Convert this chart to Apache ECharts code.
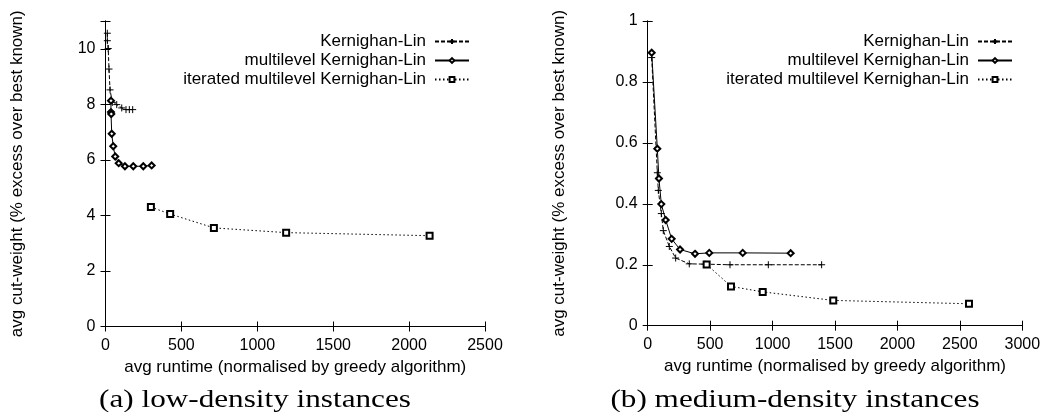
<!DOCTYPE html>
<html>
<head>
<meta charset="utf-8">
<script src="https://cdn.jsdelivr.net/npm/echarts@6.0.0/dist/echarts.min.js"></script>
<style>
  html, body { margin: 0; padding: 0; background: #fff; }
  #chart { width: 1050px; height: 412px; }
</style>
</head>
<body>
<div id="chart"></div>
<script>
// (a) low-density instances
const lowKlX = [12, 12, 18, 23, 30, 45, 74, 107, 135, 157, 179];
const lowKlY = [10.56, 10.29, 10.01, 9.27, 8.52, 8.07, 7.99, 7.87, 7.81, 7.81, 7.81];
const lowMlX = [36, 36, 38, 41, 51, 64, 87, 128, 183, 249, 304];
const lowMlY = [8.13, 7.72, 7.65, 6.94, 6.49, 6.12, 5.88, 5.77, 5.77, 5.77, 5.8];
const lowItX = [299, 426, 714, 1190, 2135];
const lowItY = [4.30, 4.05, 3.55, 3.38, 3.27];

// (b) medium-density instances
const medKlX = [32, 77, 85, 109, 125, 173, 224, 333, 459, 659, 966, 1393];
const medKlY = [0.88, 0.502, 0.444, 0.368, 0.312, 0.26, 0.222, 0.203, 0.202, 0.2, 0.2, 0.2];
const medMlX = [32, 77, 90, 109, 144, 192, 259, 379, 493, 761, 1145];
const medMlY = [0.896, 0.581, 0.483, 0.399, 0.347, 0.285, 0.25, 0.236, 0.239, 0.239, 0.238];
const medItX = [472, 667, 921, 1486, 2573];
const medItY = [0.201, 0.129, 0.111, 0.083, 0.072];

const seriesNames = ["Kernighan-Lin", "multilevel Kernighan-Lin", "iterated multilevel Kernighan-Lin"];
const xName = "avg runtime (normalised by greedy algorithm)";
const yName = "avg cut-weight (% excess over best known)";
const captions = ["(a) low-density instances", "(b) medium-density instances"];

const zip = (xs, ys) => xs.map((x, i) => [x, ys[i]]);

const sans = "Liberation Sans";
const plus = "path://M0,5L10,5M5,0L5,10";

const chart = echarts.init(document.getElementById("chart"));

const xAxes = [];
const yAxes = [];
[[2500, 11, 2], [3000, 1, 0.2]].forEach(([xmax, ymax, yint], g) => {
  const common = {
    gridIndex: g,
    type: "value",
    min: 0,
    splitLine: { show: false },
    axisLine: { show: true, lineStyle: { color: "#000", width: 1 } },
    axisTick: { show: true, inside: true, length: 5, lineStyle: { color: "#000" } },
  };
  xAxes.push(Object.assign({}, common, {
    position: "bottom",
    max: xmax,
    interval: 500,
    name: xName,
    nameLocation: "middle",
    nameGap: 28,
    nameTextStyle: { fontFamily: sans, fontSize: 17, color: "#000" },
    axisLabel: { fontFamily: sans, fontSize: 16, color: "#000", margin: 11, formatter: (v) => String(v) },
  }));
  xAxes.push(Object.assign({}, common, {
    position: "top",
    max: xmax,
    interval: 500,
    axisLabel: { show: false },
  }));
  yAxes.push(Object.assign({}, common, {
    position: "left",
    max: ymax,
    interval: yint,
    name: yName,
    nameLocation: "middle",
    nameGap: 80,
    nameTextStyle: { fontFamily: sans, fontSize: 17, color: "#000" },
    axisLabel: {
      fontFamily: sans, fontSize: 16, color: "#000", margin: 10,
      formatter: (v) => (g === 0 && v % 2 !== 0 ? "" : String(Math.round(v * 10) / 10)),
    },
  }));
  yAxes.push(Object.assign({}, common, {
    position: "right",
    max: ymax,
    interval: yint,
    axisLabel: { show: false },
  }));
});

function mkSeries(name, data, g, kind) {
  const s = {
    name: name,
    type: "line",
    xAxisIndex: g * 2,
    yAxisIndex: g * 2,
    data: data,
    animation: false,
    showSymbol: true,
    symbolSize: 6,
    lineStyle: { color: "#000", width: 1 },
    itemStyle: { color: "#000", borderColor: "#000", borderWidth: 1 },
    emphasis: { disabled: true },
  };
  if (kind === 0) {
    s.symbol = plus;
    s.symbolSize = 7;
    s.lineStyle.type = [4, 2];
  } else if (kind === 1) {
    s.symbol = "emptyDiamond";
    s.symbolSize = 6;
  } else {
    s.symbol = "emptyRect";
    s.symbolSize = 6;
    s.lineStyle.type = [1.5, 2.5];
  }
  return s;
}

const series = [
  mkSeries(seriesNames[0], zip(lowKlX, lowKlY), 0, 0),
  mkSeries(seriesNames[1], zip(lowMlX, lowMlY), 0, 1),
  mkSeries(seriesNames[2], zip(lowItX, lowItY), 0, 2),
  mkSeries(seriesNames[0], zip(medKlX, medKlY), 1, 0),
  mkSeries(seriesNames[1], zip(medMlX, medMlY), 1, 1),
  mkSeries(seriesNames[2], zip(medItX, medItY), 1, 2),
];

function legendAt(right, top) {
  return {
    data: seriesNames,
    orient: "vertical",
    right: right,
    top: top,
    padding: 0,
    align: "right",
    itemWidth: 34,
    itemHeight: 6,
    itemGap: 2,
    selectedMode: false,
    textStyle: { fontFamily: sans, fontSize: 17, color: "#000", lineHeight: 17, padding: [0, 4, 0, 0] },
  };
}

function caption(text, x) {
  return {
    type: "text",
    x: x, y: 400,
    scaleX: 1.2,
    style: {
      text: text, fontFamily: "Liberation Serif", fontSize: 26, fill: "#000",
      textAlign: "center", textVerticalAlign: "middle",
    },
  };
}

const option = {
  backgroundColor: "#fff",
  animation: false,
  grid: [
    { left: 105.5, right: 565, top: 21, bottom: 85.5 },
    { left: 647.7, right: 27.7, top: 21, bottom: 86.3 },
  ],
  xAxis: xAxes,
  yAxis: yAxes,
  legend: [legendAt(580, 33), legendAt(37, 33)],
  series: series,
  graphic: [caption(captions[0], 255), caption(captions[1], 795)],
};

chart.setOption(option);
</script>
</body>
</html>
